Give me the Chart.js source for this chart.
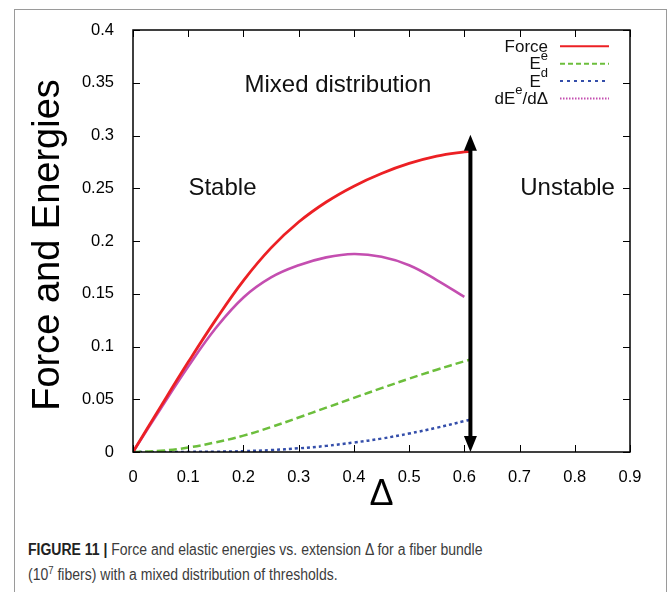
<!DOCTYPE html>
<html>
<head>
<meta charset="utf-8">
<script src="https://cdn.jsdelivr.net/npm/chart.js@4.4.1/dist/chart.umd.min.js"></script>
<style>
  html, body { margin: 0; padding: 0; background: #fff; }
  #wrap { position: relative; width: 669px; height: 592px; overflow: hidden; }
  #frame { position: absolute; left: 14px; top: 9px; width: 653px; height: 620px; border: 1px solid #9a9a9a; box-sizing: border-box; }
  #chart { position: absolute; left: 0; top: 0; }
  #caption { position: absolute; left: 28px; top: 537px; font: 16px "Liberation Sans", Arial, sans-serif; color: #3c3c3c; line-height: 25px; white-space: nowrap; transform: scaleX(0.875); transform-origin: 0 0; }
  #caption b { color: #222; }
  #caption sup { font-size: 11px; vertical-align: 6px; line-height: 0; }
</style>
</head>
<body>
<div id="wrap">
  <div id="frame"></div>
  <canvas id="chart" width="669" height="520"></canvas>
  <div id="caption"><b>FIGURE 11 |</b> Force and elastic energies vs. extension &Delta; for a fiber bundle<br>(10<sup>7</sup> fibers) with a mixed distribution of thresholds.</div>
</div>
<script>
// valores
const deltaValues = [0, 0.05, 0.1, 0.15, 0.2, 0.25, 0.3, 0.35, 0.4, 0.45, 0.5, 0.55, 0.6, 0.61];
const forceValues = [0, 0.043, 0.0852, 0.1255, 0.1625, 0.1935, 0.218, 0.237, 0.252, 0.264, 0.2735, 0.2805, 0.2845, 0.2848];
const elasticValues = [0, 0.0011, 0.0042, 0.0092, 0.0155, 0.0236, 0.0327, 0.042, 0.0513, 0.0605, 0.0695, 0.078, 0.086, 0.0875];
const dissipValues = [0, 0, 0.0001, 0.0003, 0.0008, 0.0018, 0.0035, 0.0058, 0.009, 0.0127, 0.0175, 0.023, 0.0293, 0.0305];
const slopeValues = [0, 0.041, 0.081, 0.1175, 0.1465, 0.1655, 0.177, 0.1845, 0.1877, 0.185, 0.177, 0.163, 0.147, null];

const xTicks = [0, 0.1, 0.2, 0.3, 0.4, 0.5, 0.6, 0.7, 0.8, 0.9];
const xTickLabels = ['0', '0.1', '0.2', '0.3', '0.4', '0.5', '0.6', '0.7', '0.8', '0.9'];
const yTicks = [0, 0.05, 0.1, 0.15, 0.2, 0.25, 0.3, 0.35, 0.4];
const yTickLabels = ['0', '0.05', '0.1', '0.15', '0.2', '0.25', '0.3', '0.35', '0.4'];

const arrowDelta = 0.611;
const arrowRange = [0, 0.3006];

const FONT = '"Liberation Sans", Arial, Helvetica, sans-serif';

function puntos(ys) {
    return deltaValues.map((x, i) => ({ x: x, y: ys[i] }));
}

const series = [
    { label: 'Force', data: forceValues, color: 'rgb(236, 32, 36)', dash: [], sample: [], width: 2.8 },
    { label: 'Ee', data: elasticValues, color: 'rgb(108, 190, 60)', dash: [8, 4], sample: [5, 3], width: 2.5 },
    { label: 'Ed', data: dissipValues, color: 'rgb(52, 78, 170)', dash: [3, 3], sample: [3, 4], width: 2.5 },
    { label: 'dEe/dD', data: slopeValues, color: 'rgb(196, 78, 176)', dash: [], sample: [1.5, 1.5], width: 2.6 }
];

// textos del legend con superíndices
const legendRuns = [
    [{ t: 'Force' }],
    [{ t: 'E' }, { t: 'e', sup: true }],
    [{ t: 'E' }, { t: 'd', sup: true }],
    [{ t: 'dE' }, { t: 'e', sup: true }, { t: '/d\u0394' }]
];

function drawRuns(ctx, runs, rightX, midY, size) {
    const supSize = Math.round(size * 0.75);
    let total = 0;
    runs.forEach(r => {
        ctx.font = (r.sup ? supSize : size) + 'px ' + FONT;
        r.w = ctx.measureText(r.t).width;
        total += r.w;
    });
    let x = rightX - total;
    ctx.textAlign = 'left';
    ctx.textBaseline = 'middle';
    runs.forEach(r => {
        ctx.font = (r.sup ? supSize : size) + 'px ' + FONT;
        ctx.fillText(r.t, x, r.sup ? midY - size * 0.45 : midY + 1);
        x += r.w;
    });
}

const decoPlugin = {
    id: 'deco',
    beforeDatasetsDraw(chart) {
        const ctx = chart.ctx;
        const xs = chart.scales.x, ys = chart.scales.y;
        ctx.save();
        ctx.fillStyle = '#111';
        ctx.font = '24px ' + FONT;
        ctx.textAlign = 'center';
        ctx.textBaseline = 'alphabetic';
        ctx.fillText('Mixed distribution', xs.getPixelForValue(0.371), 92);
        ctx.textBaseline = 'middle';
        ctx.fillText('Stable', xs.getPixelForValue(0.162), ys.getPixelForValue(0.25));
        ctx.fillText('Unstable', xs.getPixelForValue(0.787), ys.getPixelForValue(0.25));
        ctx.restore();
    },
    afterDatasetsDraw(chart) {
        const ctx = chart.ctx;
        const a = chart.chartArea;
        const xs = chart.scales.x, ys = chart.scales.y;
        ctx.save();

        // marco y ticks hacia adentro
        ctx.strokeStyle = '#000';
        ctx.lineWidth = 1.5;
        ctx.strokeRect(a.left, a.top, a.right - a.left, a.bottom - a.top);
        ctx.lineWidth = 1;
        const tl = 7;
        ctx.beginPath();
        xTicks.forEach(v => {
            const px = Math.round(xs.getPixelForValue(v)) + 0.5;
            ctx.moveTo(px, a.bottom); ctx.lineTo(px, a.bottom - tl);
            ctx.moveTo(px, a.top); ctx.lineTo(px, a.top + tl);
        });
        yTicks.forEach(v => {
            const py = Math.round(ys.getPixelForValue(v)) + 0.5;
            ctx.moveTo(a.left, py); ctx.lineTo(a.left + tl, py);
            ctx.moveTo(a.right, py); ctx.lineTo(a.right - tl, py);
        });
        ctx.stroke();

        // flecha doble
        const ax = xs.getPixelForValue(arrowDelta);
        const y0 = ys.getPixelForValue(arrowRange[0]);
        const y1 = ys.getPixelForValue(arrowRange[1]);
        const hl = 16, hw = 6.5;
        ctx.fillStyle = '#000';
        ctx.lineWidth = 4;
        ctx.beginPath();
        ctx.moveTo(ax, y1 + hl - 2); ctx.lineTo(ax, y0 - hl + 2);
        ctx.stroke();
        ctx.beginPath();
        ctx.moveTo(ax, y1); ctx.lineTo(ax - hw, y1 + hl); ctx.lineTo(ax + hw, y1 + hl); ctx.closePath();
        ctx.fill();
        ctx.beginPath();
        ctx.moveTo(ax, y0); ctx.lineTo(ax - hw, y0 - hl); ctx.lineTo(ax + hw, y0 - hl); ctx.closePath();
        ctx.fill();

        // leyenda
        const legendTop = 46.3, legendStep = 17.4;
        series.forEach((s, i) => {
            const ly = legendTop + i * legendStep;
            ctx.fillStyle = '#111';
            drawRuns(ctx, legendRuns[i], 548, ly, 17);
            ctx.strokeStyle = s.color;
            ctx.lineWidth = 2;
            ctx.setLineDash(s.sample);
            ctx.beginPath();
            ctx.moveTo(560, ly); ctx.lineTo(609, ly);
            ctx.stroke();
            ctx.setLineDash([]);
        });

        // títulos de ejes
        ctx.fillStyle = '#000';
        ctx.font = '38px ' + FONT;
        ctx.textAlign = 'center';
        ctx.textBaseline = 'middle';
        ctx.save();
        ctx.translate(49, 245);
        ctx.rotate(-Math.PI / 2);
        ctx.fillText('Force and Energies', 0, 0);
        ctx.restore();
        ctx.font = '36px ' + FONT;
        ctx.textBaseline = 'alphabetic';
        ctx.fillText('\u0394', (a.left + a.right) / 2, 505);
        ctx.restore();
    }
};

const ctx = document.getElementById('chart').getContext('2d');
new Chart(ctx, {
    type: 'line',
    data: {
        datasets: series.map(s => ({
            label: s.label,
            data: puntos(s.data),
            borderColor: s.color,
            borderWidth: s.width,
            borderDash: s.dash,
            pointRadius: 0,
            fill: false,
            tension: 0.4,
            spanGaps: false
        }))
    },
    options: {
        responsive: false,
        animation: false,
        layout: { padding: { left: 0, right: 39, top: 30, bottom: 0 } },
        plugins: {
            legend: { display: false },
            tooltip: { enabled: false }
        },
        scales: {
            x: {
                type: 'linear',
                min: 0,
                max: 0.9,
                grid: { display: false },
                border: { display: false },
                afterBuildTicks: s => { s.ticks = xTicks.map(v => ({ value: v })); },
                afterFit: s => { s.height = 68; },
                ticks: {
                    color: '#000',
                    padding: 8,
                    maxRotation: 0,
                    autoSkip: false,
                    font: { size: 16.5, family: FONT },
                    callback: (v, i) => xTickLabels[i]
                }
            },
            y: {
                type: 'linear',
                min: 0,
                max: 0.4,
                grid: { display: false },
                border: { display: false },
                afterBuildTicks: s => { s.ticks = yTicks.map(v => ({ value: v })); },
                afterFit: s => { s.width = 133; },
                ticks: {
                    color: '#000',
                    padding: 11,
                    autoSkip: false,
                    font: { size: 16.5, family: FONT },
                    callback: (v, i) => yTickLabels[i]
                }
            }
        }
    },
    plugins: [decoPlugin]
});
</script>
</body>
</html>
